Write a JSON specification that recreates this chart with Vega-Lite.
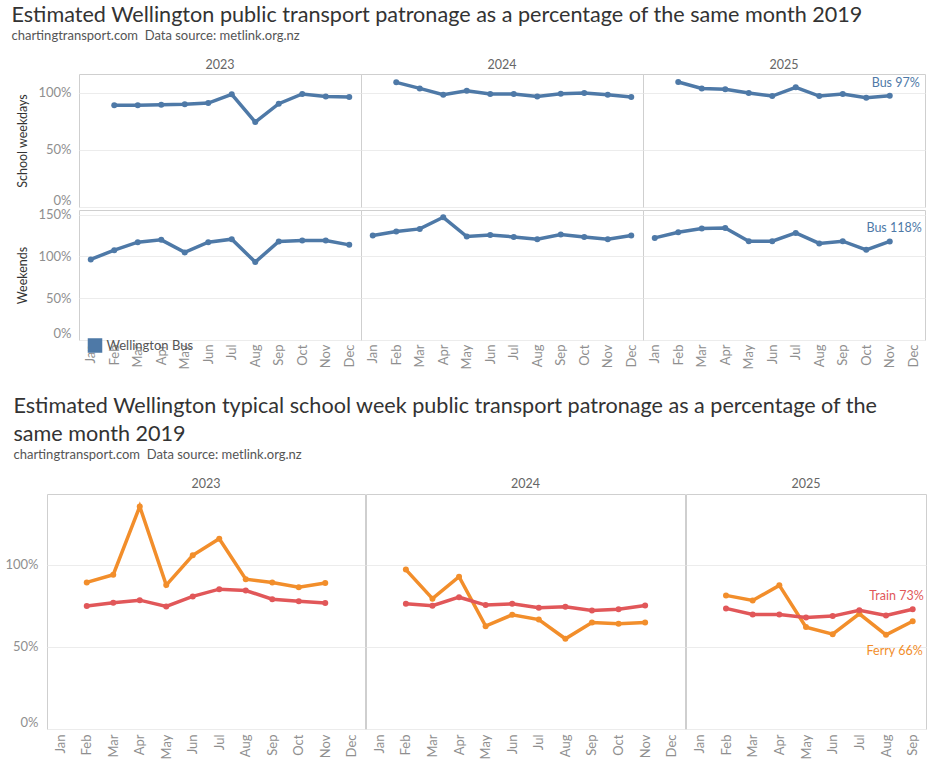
{
  "$schema": "https://vega.github.io/schema/vega-lite/v6.json",
  "background": "white",
  "padding": {"left": 4, "top": 4, "right": 0, "bottom": 0},
  "config": {
    "font": "Lato",
    "view": {"stroke": "#cfcfcf"},
    "title": {"anchor": "start", "font": "Lato", "fontSize": 21.6, "fontWeight": "normal", "color": "#333333", "subtitleFont": "Lato", "subtitleFontSize": 13, "subtitleColor": "#555555", "subtitlePadding": 0, "offset": 16, "lineHeight": 28},
    "axis": {"labelColor": "#8f8f8f", "labelFont": "Lato", "labelFontSize": 13, "gridColor": "#ececec", "domain": false, "ticks": false, "titleFont": "Lato", "titleFontWeight": "normal", "titleFontSize": 12.5, "titleColor": "#333333"},
    "header": {"labelFont": "Lato", "labelFontSize": 12.5, "labelColor": "#666666", "labelPadding": 3, "title": null}
  },
  "datasets": {
    "bus": [
      {"year": "2023", "month": "Feb", "day": "School weekdays", "mode": "Wellington Bus", "value": 89.0},
      {"year": "2023", "month": "Mar", "day": "School weekdays", "mode": "Wellington Bus", "value": 89.0},
      {"year": "2023", "month": "Apr", "day": "School weekdays", "mode": "Wellington Bus", "value": 89.5},
      {"year": "2023", "month": "May", "day": "School weekdays", "mode": "Wellington Bus", "value": 90.0},
      {"year": "2023", "month": "Jun", "day": "School weekdays", "mode": "Wellington Bus", "value": 91.0},
      {"year": "2023", "month": "Jul", "day": "School weekdays", "mode": "Wellington Bus", "value": 98.6},
      {"year": "2023", "month": "Aug", "day": "School weekdays", "mode": "Wellington Bus", "value": 74.3},
      {"year": "2023", "month": "Sep", "day": "School weekdays", "mode": "Wellington Bus", "value": 90.4},
      {"year": "2023", "month": "Oct", "day": "School weekdays", "mode": "Wellington Bus", "value": 98.9},
      {"year": "2023", "month": "Nov", "day": "School weekdays", "mode": "Wellington Bus", "value": 96.8},
      {"year": "2023", "month": "Dec", "day": "School weekdays", "mode": "Wellington Bus", "value": 96.2},
      {"year": "2024", "month": "Feb", "day": "School weekdays", "mode": "Wellington Bus", "value": 109.1},
      {"year": "2024", "month": "Mar", "day": "School weekdays", "mode": "Wellington Bus", "value": 103.8},
      {"year": "2024", "month": "Apr", "day": "School weekdays", "mode": "Wellington Bus", "value": 98.3},
      {"year": "2024", "month": "May", "day": "School weekdays", "mode": "Wellington Bus", "value": 101.8},
      {"year": "2024", "month": "Jun", "day": "School weekdays", "mode": "Wellington Bus", "value": 98.9},
      {"year": "2024", "month": "Jul", "day": "School weekdays", "mode": "Wellington Bus", "value": 98.9},
      {"year": "2024", "month": "Aug", "day": "School weekdays", "mode": "Wellington Bus", "value": 96.8},
      {"year": "2024", "month": "Sep", "day": "School weekdays", "mode": "Wellington Bus", "value": 99.1},
      {"year": "2024", "month": "Oct", "day": "School weekdays", "mode": "Wellington Bus", "value": 99.7},
      {"year": "2024", "month": "Nov", "day": "School weekdays", "mode": "Wellington Bus", "value": 98.3},
      {"year": "2024", "month": "Dec", "day": "School weekdays", "mode": "Wellington Bus", "value": 96.2},
      {"year": "2025", "month": "Feb", "day": "School weekdays", "mode": "Wellington Bus", "value": 109.4},
      {"year": "2025", "month": "Mar", "day": "School weekdays", "mode": "Wellington Bus", "value": 103.8},
      {"year": "2025", "month": "Apr", "day": "School weekdays", "mode": "Wellington Bus", "value": 103.0},
      {"year": "2025", "month": "May", "day": "School weekdays", "mode": "Wellington Bus", "value": 99.7},
      {"year": "2025", "month": "Jun", "day": "School weekdays", "mode": "Wellington Bus", "value": 97.1},
      {"year": "2025", "month": "Jul", "day": "School weekdays", "mode": "Wellington Bus", "value": 104.7},
      {"year": "2025", "month": "Aug", "day": "School weekdays", "mode": "Wellington Bus", "value": 97.1},
      {"year": "2025", "month": "Sep", "day": "School weekdays", "mode": "Wellington Bus", "value": 98.9},
      {"year": "2025", "month": "Oct", "day": "School weekdays", "mode": "Wellington Bus", "value": 95.6},
      {"year": "2025", "month": "Nov", "day": "School weekdays", "mode": "Wellington Bus", "value": 97.4, "label": "Bus 97%"},
      {"year": "2023", "month": "Jan", "day": "Weekends", "mode": "Wellington Bus", "value": 96.4},
      {"year": "2023", "month": "Feb", "day": "Weekends", "mode": "Wellington Bus", "value": 107.5},
      {"year": "2023", "month": "Mar", "day": "Weekends", "mode": "Wellington Bus", "value": 117.0},
      {"year": "2023", "month": "Apr", "day": "Weekends", "mode": "Wellington Bus", "value": 119.8},
      {"year": "2023", "month": "May", "day": "Weekends", "mode": "Wellington Bus", "value": 104.8},
      {"year": "2023", "month": "Jun", "day": "Weekends", "mode": "Wellington Bus", "value": 117.0},
      {"year": "2023", "month": "Jul", "day": "Weekends", "mode": "Wellington Bus", "value": 120.6},
      {"year": "2023", "month": "Aug", "day": "Weekends", "mode": "Wellington Bus", "value": 93.2},
      {"year": "2023", "month": "Sep", "day": "Weekends", "mode": "Wellington Bus", "value": 117.9},
      {"year": "2023", "month": "Oct", "day": "Weekends", "mode": "Wellington Bus", "value": 119.0},
      {"year": "2023", "month": "Nov", "day": "Weekends", "mode": "Wellington Bus", "value": 119.0},
      {"year": "2023", "month": "Dec", "day": "Weekends", "mode": "Wellington Bus", "value": 113.8},
      {"year": "2024", "month": "Jan", "day": "Weekends", "mode": "Wellington Bus", "value": 125.0},
      {"year": "2024", "month": "Feb", "day": "Weekends", "mode": "Wellington Bus", "value": 129.8},
      {"year": "2024", "month": "Mar", "day": "Weekends", "mode": "Wellington Bus", "value": 132.9},
      {"year": "2024", "month": "Apr", "day": "Weekends", "mode": "Wellington Bus", "value": 146.8},
      {"year": "2024", "month": "May", "day": "Weekends", "mode": "Wellington Bus", "value": 123.8},
      {"year": "2024", "month": "Jun", "day": "Weekends", "mode": "Wellington Bus", "value": 125.7},
      {"year": "2024", "month": "Jul", "day": "Weekends", "mode": "Wellington Bus", "value": 123.3},
      {"year": "2024", "month": "Aug", "day": "Weekends", "mode": "Wellington Bus", "value": 120.6},
      {"year": "2024", "month": "Sep", "day": "Weekends", "mode": "Wellington Bus", "value": 126.2},
      {"year": "2024", "month": "Oct", "day": "Weekends", "mode": "Wellington Bus", "value": 123.3},
      {"year": "2024", "month": "Nov", "day": "Weekends", "mode": "Wellington Bus", "value": 120.6},
      {"year": "2024", "month": "Dec", "day": "Weekends", "mode": "Wellington Bus", "value": 125.0},
      {"year": "2025", "month": "Jan", "day": "Weekends", "mode": "Wellington Bus", "value": 122.1},
      {"year": "2025", "month": "Feb", "day": "Weekends", "mode": "Wellington Bus", "value": 128.9},
      {"year": "2025", "month": "Mar", "day": "Weekends", "mode": "Wellington Bus", "value": 133.3},
      {"year": "2025", "month": "Apr", "day": "Weekends", "mode": "Wellington Bus", "value": 134.1},
      {"year": "2025", "month": "May", "day": "Weekends", "mode": "Wellington Bus", "value": 118.2},
      {"year": "2025", "month": "Jun", "day": "Weekends", "mode": "Wellington Bus", "value": 118.2},
      {"year": "2025", "month": "Jul", "day": "Weekends", "mode": "Wellington Bus", "value": 128.1},
      {"year": "2025", "month": "Aug", "day": "Weekends", "mode": "Wellington Bus", "value": 115.5},
      {"year": "2025", "month": "Sep", "day": "Weekends", "mode": "Wellington Bus", "value": 118.2},
      {"year": "2025", "month": "Oct", "day": "Weekends", "mode": "Wellington Bus", "value": 107.9},
      {"year": "2025", "month": "Nov", "day": "Weekends", "mode": "Wellington Bus", "value": 117.9, "label": "Bus 118%"}
    ],
    "tf": [
      {"year": "2023", "month": "Feb", "mode": "Ferry", "value": 89.2},
      {"year": "2023", "month": "Mar", "mode": "Ferry", "value": 93.9},
      {"year": "2023", "month": "Apr", "mode": "Ferry", "value": 135.4},
      {"year": "2023", "month": "May", "mode": "Ferry", "value": 87.6},
      {"year": "2023", "month": "Jun", "mode": "Ferry", "value": 105.7},
      {"year": "2023", "month": "Jul", "mode": "Ferry", "value": 115.8},
      {"year": "2023", "month": "Aug", "mode": "Ferry", "value": 91.2},
      {"year": "2023", "month": "Sep", "mode": "Ferry", "value": 89.2},
      {"year": "2023", "month": "Oct", "mode": "Ferry", "value": 86.2},
      {"year": "2023", "month": "Nov", "mode": "Ferry", "value": 88.8},
      {"year": "2024", "month": "Feb", "mode": "Ferry", "value": 97.0},
      {"year": "2024", "month": "Mar", "mode": "Ferry", "value": 79.3},
      {"year": "2024", "month": "Apr", "mode": "Ferry", "value": 92.7},
      {"year": "2024", "month": "May", "mode": "Ferry", "value": 62.6},
      {"year": "2024", "month": "Jun", "mode": "Ferry", "value": 69.5},
      {"year": "2024", "month": "Jul", "mode": "Ferry", "value": 66.6},
      {"year": "2024", "month": "Aug", "mode": "Ferry", "value": 54.9},
      {"year": "2024", "month": "Sep", "mode": "Ferry", "value": 64.8},
      {"year": "2024", "month": "Oct", "mode": "Ferry", "value": 64.0},
      {"year": "2024", "month": "Nov", "mode": "Ferry", "value": 64.8},
      {"year": "2025", "month": "Feb", "mode": "Ferry", "value": 81.3},
      {"year": "2025", "month": "Mar", "mode": "Ferry", "value": 78.2},
      {"year": "2025", "month": "Apr", "mode": "Ferry", "value": 87.4},
      {"year": "2025", "month": "May", "mode": "Ferry", "value": 62.0},
      {"year": "2025", "month": "Jun", "mode": "Ferry", "value": 57.7},
      {"year": "2025", "month": "Jul", "mode": "Ferry", "value": 70.1},
      {"year": "2025", "month": "Aug", "mode": "Ferry", "value": 57.3},
      {"year": "2025", "month": "Sep", "mode": "Ferry", "value": 65.6, "label": "Ferry 66%"},
      {"year": "2023", "month": "Feb", "mode": "Train", "value": 74.8},
      {"year": "2023", "month": "Mar", "mode": "Train", "value": 76.8},
      {"year": "2023", "month": "Apr", "mode": "Train", "value": 78.4},
      {"year": "2023", "month": "May", "mode": "Train", "value": 74.6},
      {"year": "2023", "month": "Jun", "mode": "Train", "value": 80.7},
      {"year": "2023", "month": "Jul", "mode": "Train", "value": 85.1},
      {"year": "2023", "month": "Aug", "mode": "Train", "value": 84.3},
      {"year": "2023", "month": "Sep", "mode": "Train", "value": 79.0},
      {"year": "2023", "month": "Oct", "mode": "Train", "value": 77.8},
      {"year": "2023", "month": "Nov", "mode": "Train", "value": 76.6},
      {"year": "2024", "month": "Feb", "mode": "Train", "value": 76.2},
      {"year": "2024", "month": "Mar", "mode": "Train", "value": 75.0},
      {"year": "2024", "month": "Apr", "mode": "Train", "value": 80.2},
      {"year": "2024", "month": "May", "mode": "Train", "value": 75.4},
      {"year": "2024", "month": "Jun", "mode": "Train", "value": 76.2},
      {"year": "2024", "month": "Jul", "mode": "Train", "value": 73.8},
      {"year": "2024", "month": "Aug", "mode": "Train", "value": 74.4},
      {"year": "2024", "month": "Sep", "mode": "Train", "value": 72.1},
      {"year": "2024", "month": "Oct", "mode": "Train", "value": 72.9},
      {"year": "2024", "month": "Nov", "mode": "Train", "value": 75.2},
      {"year": "2025", "month": "Feb", "mode": "Train", "value": 73.4},
      {"year": "2025", "month": "Mar", "mode": "Train", "value": 69.7},
      {"year": "2025", "month": "Apr", "mode": "Train", "value": 69.7},
      {"year": "2025", "month": "May", "mode": "Train", "value": 67.9},
      {"year": "2025", "month": "Jun", "mode": "Train", "value": 68.7},
      {"year": "2025", "month": "Jul", "mode": "Train", "value": 72.3},
      {"year": "2025", "month": "Aug", "mode": "Train", "value": 69.1},
      {"year": "2025", "month": "Sep", "mode": "Train", "value": 72.9, "label": "Train 73%"}
    ]
  },
  "resolve": {"scale": {"color": "independent"}, "legend": {"color": "independent"}},
  "spacing": 26,
  "vconcat": [
    {
      "title": {"text": "Estimated Wellington public transport patronage as a percentage of the same month 2019", "subtitle": "chartingtransport.com\u00a0 Data source: metlink.org.nz", "dx": -5.5},
      "spacing": -35,
      "hconcat": [
        {
          "data": {"values": [{"a": 0}]},
          "width": 1,
          "height": 1,
          "view": {"stroke": null},
          "mark": {"type": "point", "opacity": 0},
          "encoding": {}
        },
        {
          "spacing": 0,
          "vconcat": [
            {
              "data": {"name": "bus"},
              "transform": [{"filter": "datum.day == 'School weekdays'"}],
              "facet": {"column": {"field": "year", "type": "nominal", "header": {"title": null}}},
              "spacing": 0,
              "bounds": "flush",
              "spec": {
                "width": 282,
                "height": 133,
                "encoding": {
                  "x": {"field": "month", "type": "ordinal", "scale": {"domain": ["Jan","Feb","Mar","Apr","May","Jun","Jul","Aug","Sep","Oct","Nov","Dec"]}, "axis": null},
                  "y": {"field": "value", "type": "quantitative", "scale": {"domain": [0, 116.4], "nice": false}, "axis": {"values": [0, 50, 100], "title": "School weekdays", "labelExpr": "datum.value + '%'", "labelPadding": 8, "titlePadding": 8, "labelFlush": 1}}
                },
                "layer": [
                  {
                    "mark": {"type": "line", "strokeWidth": 3.5, "point": {"filled": true, "size": 36}},
                    "encoding": {"color": {"field": "mode", "type": "nominal", "scale": {"domain": ["Wellington Bus"], "range": ["#4e79a7"]}, "legend": {"orient": "none", "legendX": 40.5, "legendY": 264, "title": null, "symbolType": "square", "symbolSize": 170, "symbolFillColor": "#4e79a7", "symbolStrokeColor": "#4e79a7", "labelFontSize": 13, "labelColor": "#555555", "labelFont": "Lato"}}}
                  },
                  {
                    "transform": [{"filter": "isValid(datum.label)"}],
                    "mark": {"type": "text", "align": "right", "baseline": "middle", "dx": 30, "dy": -13, "fontSize": 12.5, "color": "#4e79a7"},
                    "encoding": {"text": {"field": "label"}}
                  }
                ]
              }
            },
            {
              "data": {"name": "bus"},
              "transform": [{"filter": "datum.day == 'Weekends'"}],
              "facet": {"column": {"field": "year", "type": "nominal", "header": null}},
              "spacing": 0,
              "bounds": "flush",
              "spec": {
                "width": 282,
                "height": 130,
                "encoding": {
                  "x": {"field": "month", "type": "ordinal", "scale": {"domain": ["Jan","Feb","Mar","Apr","May","Jun","Jul","Aug","Sep","Oct","Nov","Dec"]}, "axis": {"labelAngle": -90, "title": null, "labelPadding": 4}},
                  "y": {"field": "value", "type": "quantitative", "scale": {"domain": [0, 155.5], "nice": false}, "axis": {"values": [0, 50, 100, 150], "title": "Weekends", "labelExpr": "datum.value + '%'", "labelPadding": 8, "titlePadding": 8, "labelFlush": 1}}
                },
                "layer": [
                  {
                    "mark": {"type": "line", "strokeWidth": 3.5, "point": {"filled": true, "size": 36}},
                    "encoding": {"color": {"field": "mode", "type": "nominal", "scale": {"domain": ["Wellington Bus"], "range": ["#4e79a7"]}}}
                  },
                  {
                    "transform": [{"filter": "isValid(datum.label)"}],
                    "mark": {"type": "text", "align": "right", "baseline": "middle", "dx": 32, "dy": -13, "fontSize": 12.5, "color": "#4e79a7"},
                    "encoding": {"text": {"field": "label"}}
                  }
                ]
              }
            }
          ]
        }
      ]
    },
    {
      "title": {"text": ["Estimated Wellington typical school week public transport patronage as a percentage of the", "same month 2019"], "subtitle": "chartingtransport.com\u00a0 Data source: metlink.org.nz", "dx": 8.5},
      "spacing": -3,
      "hconcat": [
        {
          "data": {"name": "tf"},
          "transform": [{"filter": "datum.year == '2023'"}],
          "facet": {"column": {"field": "year", "type": "nominal", "header": {"title": null}}},
          "spec": {
            "width": 318,
            "height": 235,
            "encoding": {
              "x": {"field": "month", "type": "ordinal", "scale": {"domain": ["Jan","Feb","Mar","Apr","May","Jun","Jul","Aug","Sep","Oct","Nov","Dec"]}, "axis": {"labelAngle": -90, "title": null, "labelPadding": 4}},
              "y": {"field": "value", "type": "quantitative", "scale": {"domain": [0, 143], "nice": false}, "axis": {"values": [0, 50, 100], "title": null, "labelExpr": "datum.value + '%'", "labelPadding": 8, "labelFlush": 1}}
            },
            "layer": [
              {
                "mark": {"type": "line", "strokeWidth": 3.5, "point": {"filled": true, "size": 36}},
                "encoding": {"color": {"field": "mode", "type": "nominal", "scale": {"domain": ["Train", "Ferry"], "range": ["#e15759", "#f28e2b"]}, "legend": null}}
              }
            ]
          }
        },
        {
          "data": {"name": "tf"},
          "transform": [{"filter": "datum.year == '2024'"}],
          "facet": {"column": {"field": "year", "type": "nominal", "header": {"title": null}}},
          "spec": {
            "width": 319,
            "height": 235,
            "encoding": {
              "x": {"field": "month", "type": "ordinal", "scale": {"domain": ["Jan","Feb","Mar","Apr","May","Jun","Jul","Aug","Sep","Oct","Nov","Dec"]}, "axis": {"labelAngle": -90, "title": null, "labelPadding": 4}},
              "y": {"field": "value", "type": "quantitative", "scale": {"domain": [0, 143], "nice": false}, "axis": {"values": [0, 50, 100], "title": null, "labels": false}}
            },
            "layer": [
              {
                "mark": {"type": "line", "strokeWidth": 3.5, "point": {"filled": true, "size": 36}},
                "encoding": {"color": {"field": "mode", "type": "nominal", "scale": {"domain": ["Train", "Ferry"], "range": ["#e15759", "#f28e2b"]}, "legend": null}}
              }
            ]
          }
        },
        {
          "data": {"name": "tf"},
          "transform": [{"filter": "datum.year == '2025'"}],
          "facet": {"column": {"field": "year", "type": "nominal", "header": {"title": null}}},
          "spec": {
            "width": 240,
            "height": 235,
            "encoding": {
              "x": {"field": "month", "type": "ordinal", "scale": {"domain": ["Jan","Feb","Mar","Apr","May","Jun","Jul","Aug","Sep"]}, "axis": {"labelAngle": -90, "title": null, "labelPadding": 4}},
              "y": {"field": "value", "type": "quantitative", "scale": {"domain": [0, 143], "nice": false}, "axis": {"values": [0, 50, 100], "title": null, "labels": false}}
            },
            "layer": [
              {
                "mark": {"type": "line", "strokeWidth": 3.5, "point": {"filled": true, "size": 36}},
                "encoding": {"color": {"field": "mode", "type": "nominal", "scale": {"domain": ["Train", "Ferry"], "range": ["#e15759", "#f28e2b"]}, "legend": null}}
              },
              {
                "transform": [{"filter": "datum.label == 'Train 73%'"}],
                "mark": {"type": "text", "align": "right", "baseline": "middle", "dx": 11, "dy": -13, "fontSize": 12.5, "color": "#e15759"},
                "encoding": {"text": {"field": "label"}}
              },
              {
                "transform": [{"filter": "datum.label == 'Ferry 66%'"}],
                "mark": {"type": "text", "align": "right", "baseline": "middle", "dx": 10, "dy": 30, "fontSize": 12.5, "color": "#f28e2b"},
                "encoding": {"text": {"field": "label"}}
              }
            ]
          }
        }
      ]
    }
  ]
}
